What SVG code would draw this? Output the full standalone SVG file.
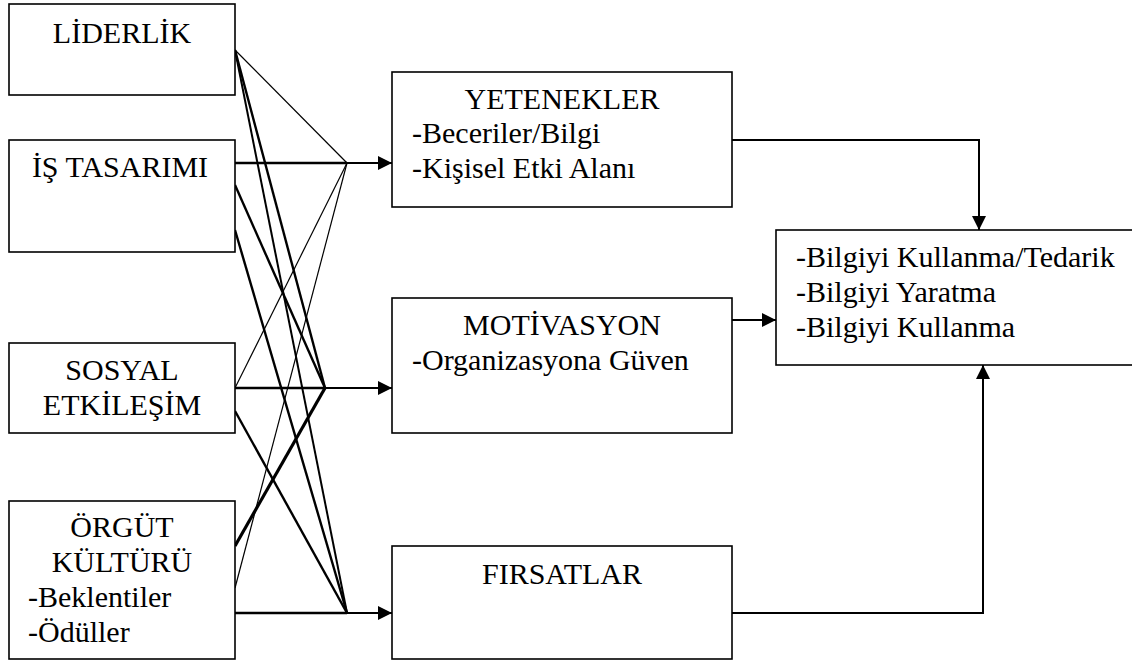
<svg xmlns="http://www.w3.org/2000/svg" width="1132" height="660" viewBox="0 0 1132 660" font-family="'Liberation Serif', 'Times New Roman', Times, serif">
<style>
.box{fill:#fff;stroke:#000;stroke-width:1.6}
.t{font-family:'Liberation Serif','Times New Roman',Times,serif;font-size:30px;fill:#000}
.c{text-anchor:middle}
.thin{stroke:#000;stroke-width:1.2;fill:none}
.med{stroke:#000;stroke-width:2;fill:none}
.thick{stroke:#000;stroke-width:2.4;fill:none}
.xthick{stroke:#000;stroke-width:3.2;fill:none}
.arr{stroke:#000;stroke-width:2;fill:none}
</style>
<defs>
<marker id="ah" viewBox="0 0 14 14" refX="14" refY="7" markerWidth="14" markerHeight="14" markerUnits="userSpaceOnUse" orient="auto">
<path d="M0,0 L14,7 L0,14 Z" fill="#000"/>
</marker>
</defs>
<rect width="1132" height="660" fill="#fff"/>
<g id="connectors">
<line class="thin" x1="235" y1="50" x2="347" y2="163"/>
<line class="thick" x1="235" y1="50" x2="325" y2="388"/>
<line class="med" x1="235" y1="50" x2="347" y2="613"/>
<line class="thick" x1="235" y1="163" x2="347" y2="163"/>
<line class="thick" x1="235" y1="185" x2="325" y2="388"/>
<line class="thick" x1="235" y1="230" x2="347" y2="613"/>
<line class="thin" x1="235" y1="388" x2="347" y2="163"/>
<line class="thick" x1="235" y1="388" x2="325" y2="388"/>
<line class="thick" x1="235" y1="411" x2="347" y2="613"/>
<line class="xthick" x1="235" y1="546" x2="325" y2="388"/>
<line class="thin" x1="235" y1="588" x2="347" y2="163"/>
<line class="thick" x1="235" y1="613" x2="347" y2="613"/>
<line class="arr" x1="347" y1="163" x2="392" y2="163" marker-end="url(#ah)"/>
<line class="arr" x1="325" y1="388" x2="392" y2="388" marker-end="url(#ah)"/>
<line class="arr" x1="347" y1="613" x2="392" y2="613" marker-end="url(#ah)"/>
<polyline class="arr" points="732,140 979,140 979,230" marker-end="url(#ah)"/>
<line class="arr" x1="732" y1="320" x2="776" y2="320" marker-end="url(#ah)"/>
<polyline class="arr" points="732,613 983,613 983,365" marker-end="url(#ah)"/>
</g>
<g id="liderlik">
<rect class="box" x="9" y="4" width="226" height="91"/>
<text class="t c" x="122" y="43">LİDERLİK</text>
</g>
<g id="is-tasarimi">
<rect class="box" x="9" y="140" width="226" height="112"/>
<text class="t c" x="120" y="177">İŞ TASARIMI</text>
</g>
<g id="sosyal-etkilesim">
<rect class="box" x="9" y="343" width="226" height="90"/>
<text class="t c" x="122" y="380">SOSYAL</text>
<text class="t c" x="122" y="415">ETKİLEŞİM</text>
</g>
<g id="orgut-kulturu">
<rect class="box" x="9" y="501" width="226" height="158"/>
<text class="t c" x="122" y="537">ÖRGÜT</text>
<text class="t c" x="122" y="572">KÜLTÜRÜ</text>
<text class="t" x="28" y="607">-Beklentiler</text>
<text class="t" x="28" y="642">-Ödüller</text>
</g>
<g id="yetenekler">
<rect class="box" x="392" y="72" width="340" height="135"/>
<text class="t c" x="562" y="109">YETENEKLER</text>
<text class="t" x="412" y="143">-Beceriler/Bilgi</text>
<text class="t" x="412" y="178">-Kişisel Etki Alanı</text>
</g>
<g id="motivasyon">
<rect class="box" x="392" y="298" width="340" height="135"/>
<text class="t c" x="562" y="335">MOTİVASYON</text>
<text class="t" x="412" y="370">-Organizasyona Güven</text>
</g>
<g id="firsatlar">
<rect class="box" x="392" y="546" width="340" height="113"/>
<text class="t c" x="562" y="584">FIRSATLAR</text>
</g>
<g id="bilgi">
<rect class="box" x="776" y="230" width="360" height="135"/>
<text class="t" x="796" y="267">-Bilgiyi Kullanma/Tedarik</text>
<text class="t" x="796" y="302">-Bilgiyi Yaratma</text>
<text class="t" x="796" y="337">-Bilgiyi Kullanma</text>
</g>
</svg>
